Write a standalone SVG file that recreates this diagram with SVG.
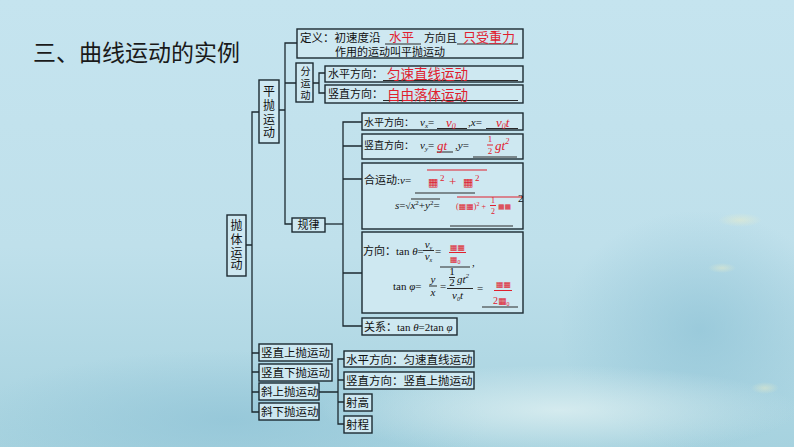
<svg xmlns="http://www.w3.org/2000/svg" width="794" height="447" viewBox="0 0 794 447">
<defs>
<linearGradient id="bg" x1="0" y1="0" x2="0" y2="1">
<stop offset="0" stop-color="#c5e4ef"/>
<stop offset="0.55" stop-color="#bfe0eb"/>
<stop offset="1" stop-color="#a6d2df"/>
</linearGradient>
<radialGradient id="blotL" cx="0.5" cy="0.5" r="0.5">
<stop offset="0" stop-color="#8fc3d6" stop-opacity="0.7"/>
<stop offset="1" stop-color="#8fc3d6" stop-opacity="0"/>
</radialGradient>
<radialGradient id="blotW" cx="0.5" cy="0.5" r="0.5">
<stop offset="0" stop-color="#e6f4f4" stop-opacity="0.7"/>
<stop offset="1" stop-color="#e6f4f4" stop-opacity="0"/>
</radialGradient>
<radialGradient id="blotY" cx="0.5" cy="0.5" r="0.5">
<stop offset="0" stop-color="#f1efc4" stop-opacity="0.45"/>
<stop offset="1" stop-color="#f1efc4" stop-opacity="0"/>
</radialGradient>
<style>
.box{fill:#cee8f1;stroke:#1c2a31;stroke-width:1.4}
.ln{fill:none;stroke:#1c2a31;stroke-width:1.3}
.ul{stroke:#2a2a2a;stroke-width:1}
.rl{stroke:#e0202e;stroke-width:1}
.t{font-family:"Liberation Serif","Noto Sans CJK SC",serif;font-size:11px;fill:#111}
.tb{font-family:"Liberation Serif","Noto Sans CJK SC",serif;font-size:11.5px;fill:#111}
.v{font-family:"Liberation Serif","Noto Sans CJK SC",serif;font-size:12px;fill:#111;text-anchor:middle}
.r{font-family:"Liberation Serif","Noto Sans CJK SC",serif;fill:#e0202e}
.g{font-family:"DejaVu Sans",sans-serif;fill:#e0202e}
.i{font-style:italic}
</style>
</defs>
<rect width="794" height="447" fill="url(#bg)"/>
<ellipse cx="230" cy="420" rx="260" ry="70" fill="url(#blotL)"/>
<ellipse cx="700" cy="330" rx="140" ry="120" fill="url(#blotL)"/>
<ellipse cx="560" cy="410" rx="240" ry="45" fill="url(#blotW)"/>
<ellipse cx="740" cy="220" rx="22" ry="7" fill="url(#blotY)"/>
<ellipse cx="722" cy="268" rx="14" ry="5" fill="url(#blotY)"/>
<ellipse cx="765" cy="388" rx="14" ry="6" fill="url(#blotY)"/>

<text x="33" y="61" font-family="'Noto Sans CJK SC',sans-serif" font-size="23" fill="#1a1a1a">三、曲线运动的实例</text>

<g id="connectors">
<path class="ln" d="M259,112 H252 V412 H259"/>
<path class="ln" d="M246,245 H252 M252,353 H259 M252,372 H259 M252,392 H259"/>
<path class="ln" d="M297,43 H285 V224 H292"/>
<path class="ln" d="M279,110 H285 M285,83 H296"/>
<path class="ln" d="M325,73 H319 V93 H325 M313,83 H319"/>
<path class="ln" d="M325,224 H343"/>
<path class="ln" d="M362,122 H343 V326 H362 M343,146 H362 M343,179 H362 M343,273 H362"/>
<path class="ln" d="M319,392 H338 M344,359 H338 V424 H344 M338,380 H344 M338,402 H344"/>
</g>

<g id="dingyi">
<rect class="box" x="297" y="29" width="226" height="29"/>
<text class="tb" x="300" y="42">定义：初速度沿</text>
<line class="ul" x1="385" y1="44" x2="421" y2="44"/>
<text class="r" x="389" y="42" font-size="12.5">水平</text>
<text class="t" x="424" y="42" font-size="10.5">方向且</text>
<line class="ul" x1="457" y1="44" x2="518" y2="44"/>
<text class="r" x="463" y="42" font-size="13">只受重力</text>
<text class="t" x="335" y="55.5" font-size="10.5">作用的运动叫平抛运动</text>
</g>

<g id="pingpao">
<rect class="box" x="259" y="80" width="20" height="63"/>
<text class="v" x="269" y="95.5">平<tspan x="269" dy="14">抛</tspan><tspan x="269" dy="14">运</tspan><tspan x="269" dy="13.5">动</tspan></text>
</g>

<g id="fenyundong">
<rect class="box" x="296" y="63" width="17" height="39"/>
<text x="304.5" y="66.5" writing-mode="vertical-rl" font-family="'Liberation Serif','Noto Sans CJK SC',serif" font-size="10" letter-spacing="2" fill="#111">分运动</text>
</g>

<g id="fen-shuiping">
<rect class="box" x="325" y="66" width="198" height="16"/>
<text class="t" x="328" y="78">水平方向：</text>
<line class="ul" x1="383" y1="80.5" x2="518" y2="80.5"/>
<text class="r" x="387" y="79" font-size="13.5">匀速直线运动</text>
</g>

<g id="fen-shuzhi">
<rect class="box" x="325" y="85" width="198" height="18"/>
<text class="t" x="328" y="98">竖直方向：</text>
<line class="ul" x1="383" y1="100.5" x2="518" y2="100.5"/>
<text class="r" x="387" y="99.5" font-size="13.5">自由落体运动</text>
</g>

<g id="guilv">
<rect class="box" x="292" y="218" width="33" height="14"/>
<text class="t" x="308.5" y="229" text-anchor="middle">规律</text>
</g>

<g id="gl-shuiping">
<rect class="box" x="362" y="113" width="161" height="17"/>
<text class="t" x="364" y="126"><tspan font-size="10">水平方向：</tspan><tspan class="i" x="420">v</tspan><tspan class="i" font-size="7" dy="2">x</tspan><tspan dy="-2">=</tspan></text>
<line class="ul" x1="437" y1="128.5" x2="467" y2="128.5"/>
<text class="r i" x="446" y="127" font-size="13">v<tspan font-size="8" dy="2">0</tspan></text>
<text class="t" x="468" y="126">,<tspan class="i">x</tspan>=</text>
<line class="ul" x1="486" y1="128.5" x2="518" y2="128.5"/>
<text class="r i" x="496" y="127" font-size="13">v<tspan font-size="8" dy="2">0</tspan><tspan dy="-2">t</tspan></text>
</g>

<g id="gl-shuzhi">
<rect class="box" x="362" y="134" width="161" height="25"/>
<text class="t" x="364" y="149"><tspan font-size="10">竖直方向：</tspan><tspan class="i" x="420">v</tspan><tspan class="i" font-size="7" dy="2">y</tspan><tspan dy="-2">=</tspan></text>
<line class="ul" x1="437" y1="152" x2="453" y2="152"/>
<text class="r i" x="437" y="150" font-size="13">gt</text>
<text class="t" x="455" y="149">,<tspan class="i">y</tspan>=</text>
<line class="ul" x1="473" y1="157" x2="517" y2="157"/>
<text class="r" x="490" y="142" font-size="9" text-anchor="middle">1</text>
<line class="rl" x1="487" y1="145" x2="493" y2="145"/>
<text class="r" x="490" y="154" font-size="9" text-anchor="middle">2</text>
<text class="r i" x="495" y="150" font-size="13">gt<tspan font-size="8" dy="-6">2</tspan></text>
</g>

<g id="gl-heyundong">
<rect class="box" x="362" y="163" width="161" height="66"/>
<text class="t" x="364" y="184">合运动:<tspan class="i">v</tspan>=</text>
<line class="rl" x1="427" y1="170" x2="487" y2="170"/>
<text class="g" x="428" y="186" font-size="11">▦</text>
<text class="r" x="440" y="181" font-size="9">2</text>
<text class="r" x="449" y="186" font-size="13">+</text>
<text class="g" x="463" y="186" font-size="11">▦</text>
<text class="r" x="475" y="181" font-size="9">2</text>
<line class="ul" x1="415" y1="193" x2="475" y2="193"/>
<line class="rl" x1="457" y1="197" x2="523" y2="197"/>
<text class="t" x="518" y="202" font-size="5">2</text>
<text class="t" x="395" y="209"><tspan class="i">s</tspan>=<tspan font-size="9">√</tspan><tspan class="i">x</tspan><tspan font-size="7" dy="-4">2</tspan><tspan dy="4">+</tspan><tspan class="i">y</tspan><tspan font-size="7" dy="-4">2</tspan><tspan dy="4">=</tspan></text>
<line class="ul" x1="411" y1="199" x2="440" y2="199"/>
<text class="r" x="456" y="209" font-size="8">(<tspan class="g">▦▦</tspan>)<tspan dy="-3" font-size="6">2</tspan><tspan dy="3"> +</tspan></text>
<text class="r" x="493" y="203" font-size="8" text-anchor="middle">1</text>
<line class="rl" x1="490" y1="205.5" x2="496" y2="205.5"/>
<text class="r" x="493" y="214" font-size="8" text-anchor="middle">2</text>
<text class="g" x="498" y="209" font-size="7">▦▦</text>
<line class="ul" x1="450" y1="226" x2="513" y2="226"/>
</g>

<g id="gl-fangxiang">
<rect class="box" x="362" y="232" width="161" height="81"/>
<text class="t" x="363" y="255">方向：tan <tspan class="i">θ</tspan>=</text>
<text class="t i" x="428.5" y="248" font-size="10" text-anchor="middle">v<tspan font-size="6" dy="2">y</tspan></text>
<line class="ul" x1="423" y1="250.5" x2="434" y2="250.5"/>
<text class="t i" x="428.5" y="260" font-size="10" text-anchor="middle">v<tspan font-size="6" dy="2">x</tspan></text>
<text class="t" x="435" y="255">=</text>
<text class="g" x="450" y="250" font-size="8">▦▦</text>
<line class="rl" x1="449" y1="252.5" x2="466" y2="252.5"/>
<text class="g" x="450" y="262" font-size="8">▦<tspan class="r" font-size="6" dy="2">0</tspan></text>
<line class="ul" x1="440" y1="267" x2="470" y2="267"/>
<text class="t" x="472" y="266">,</text>
<text class="t" x="393" y="290">tan <tspan class="i">φ</tspan>=</text>
<text class="t i" x="433" y="283" text-anchor="middle">y</text>
<line class="ul" x1="429" y1="286" x2="437" y2="286"/>
<text class="t i" x="433" y="296" text-anchor="middle">x</text>
<text class="t" x="440" y="290">=</text>
<text class="t" x="452" y="275" font-size="9" text-anchor="middle">1</text>
<line class="ul" x1="449" y1="277.5" x2="455" y2="277.5"/>
<text class="t" x="452" y="286" font-size="9" text-anchor="middle">2</text>
<text class="t i" x="457" y="283">gt<tspan font-size="7" dy="-5">2</tspan></text>
<line class="ul" x1="447" y1="288.5" x2="473" y2="288.5"/>
<text class="t i" x="452" y="299">v<tspan font-size="6" dy="2">0</tspan><tspan dy="-2">t</tspan></text>
<text class="t" x="477" y="292">=</text>
<text class="g" x="496" y="287" font-size="8">▦▦</text>
<line class="rl" x1="494" y1="290.5" x2="512" y2="290.5"/>
<text class="r" x="493" y="304" font-size="10">2<tspan class="g" font-size="9">▦</tspan><tspan font-size="6" dy="2">0</tspan></text>
<line class="ul" x1="482" y1="307" x2="518" y2="307"/>
</g>

<g id="gl-guanxi">
<rect class="box" x="362" y="318" width="95" height="17"/>
<text class="t" x="364" y="331">关系：tan <tspan class="i">θ</tspan>=2tan <tspan class="i">φ</tspan></text>
</g>

<g id="paoti">
<rect class="box" x="227" y="215" width="19" height="61"/>
<text class="v" x="236.5" y="229.5">抛<tspan x="236.5" dy="14">体</tspan><tspan x="236.5" dy="13">运</tspan><tspan x="236.5" dy="12.5">动</tspan></text>
</g>

<g id="shuzhishangpao">
<rect class="box" x="259" y="344" width="73" height="17"/>
<text class="tb" x="261" y="357">竖直上抛运动</text>
</g>
<g id="shuzhixiapao">
<rect class="box" x="259" y="364" width="73" height="17"/>
<text class="tb" x="261" y="377">竖直下抛运动</text>
</g>
<g id="xieshangpao">
<rect class="box" x="259" y="383" width="60" height="17"/>
<text class="tb" x="261" y="396">斜上抛运动</text>
</g>
<g id="xiexiapao">
<rect class="box" x="259" y="403" width="60" height="17"/>
<text class="tb" x="261" y="416">斜下抛运动</text>
</g>
<g id="xs-shuiping">
<rect class="box" x="344" y="351" width="130" height="16"/>
<text class="tb" x="346" y="363.5">水平方向：匀速直线运动</text>
</g>
<g id="xs-shuzhi">
<rect class="box" x="344" y="372" width="130" height="17"/>
<text class="tb" x="346" y="385">竖直方向：竖直上抛运动</text>
</g>
<g id="shegao">
<rect class="box" x="344" y="394" width="28" height="17"/>
<text class="tb" x="346" y="407" font-size="12">射高</text>
</g>
<g id="shecheng">
<rect class="box" x="344" y="416" width="28" height="17"/>
<text class="tb" x="346" y="429" font-size="12">射程</text>
</g>
</svg>
